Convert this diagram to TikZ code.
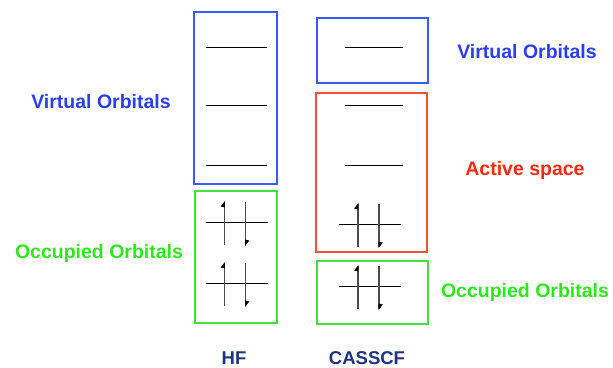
\documentclass[tikz,border=0pt]{standalone}
\usepackage{fontspec}
\setmainfont{Liberation Sans}
\definecolor{boxblue}{HTML}{3A5BF5}
\definecolor{boxgreen}{HTML}{44E03C}
\definecolor{boxred}{HTML}{F5503C}
\definecolor{txtblue}{HTML}{2B3FF0}
\definecolor{txtgreen}{HTML}{2EE81A}
\definecolor{txtred}{HTML}{F52A10}
\definecolor{txtnavy}{HTML}{1E3480}
\tikzset{
  frame/.style={draw, rectangle, line width=1.3pt, inner sep=0pt},
  level/.style={draw=black, line width=1pt},
  spin/.style={draw=black!70, line width=1.6pt},
  label/.style={font=\bfseries\fontsize{19.5}{22}\selectfont, inner sep=0pt},
  tag/.style={font=\bfseries\fontsize{18.5}{21}\selectfont, inner sep=0pt},
  epair/.pic={
    \draw[level] (-31,0) -- (31,0);
    \draw[spin] (-12,-20) -- (-12,23);
    \draw[spin] (9,-20) -- (9,23);
    \fill[black] (-11.6,-21) -- (-15.8,-15.5) -- (-11.6,-14.5) -- cycle;
    \fill[black] (8.6,24) -- (12.8,18.5) -- (8.6,17.5) -- cycle;
  }
}
\begin{document}
\begin{tikzpicture}[x=1pt,y=-1pt]
  \useasboundingbox (0,0) rectangle (613,367);

  % HF column
  \node[frame, draw=boxblue, minimum width=83pt, minimum height=172pt] (hfvirt) at (235.5,98) {};
  \node[frame, draw=boxgreen, minimum width=82pt, minimum height=132pt] (hfocc) at (236,257) {};
  \foreach \yy in {47,105,165} \draw[level] (206,\yy) -- (267,\yy);
  \pic at (236.5,222) {epair};
  \pic at (236.5,283) {epair};

  % CASSCF column
  \node[frame, draw=boxblue, minimum width=111pt, minimum height=65pt] (casvirt) at (372.5,50.5) {};
  \node[frame, draw=boxred, minimum width=111pt, minimum height=159pt] (casact) at (371.5,172.5) {};
  \node[frame, draw=boxgreen, minimum width=111pt, minimum height=63pt] (casocc) at (372.5,292.5) {};
  \foreach \yy in {47,105,165} \draw[level] (345,\yy) -- (403,\yy);
  \pic at (370,224) {epair};
  \pic at (370,286) {epair};

  % labels
  \node[label, text=txtblue] (lvirt) at (101,102) {Virtual Orbitals};
  \node[label, text=txtgreen] (locc) at (99,253) {Occupied Orbitals};
  \node[label, text=txtblue] (rvirt) at (527,52) {Virtual Orbitals};
  \node[label, text=txtred] (ract) at (525,170) {Active space};
  \node[label, text=txtgreen] (rocc) at (525,292) {Occupied Orbitals};
  \node[tag, text=txtnavy] (hf) at (234,358) {HF};
  \node[tag, text=txtnavy] (cas) at (367,358) {CASSCF};
\end{tikzpicture}
\end{document}
